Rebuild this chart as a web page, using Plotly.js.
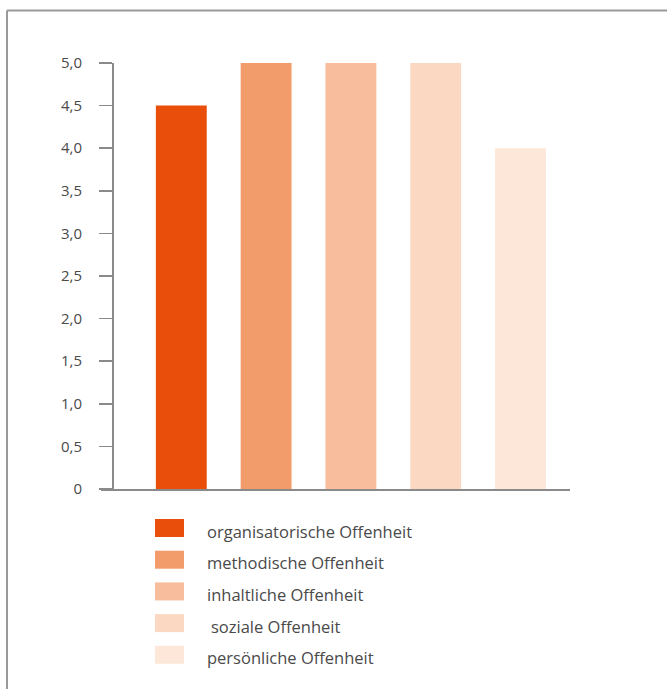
<!DOCTYPE html>
<html>
<head>
<meta charset="utf-8">
<script src="https://cdn.plot.ly/plotly-3.0.1.min.js"></script>
<style>
html,body{margin:0;padding:0;background:#fff;}
#chart{width:667px;height:689px;}
</style>
</head>
<body>
<div id="chart"></div>
<script>
const categories = ["organisatorische Offenheit", "methodische Offenheit", "inhaltliche Offenheit", "soziale Offenheit", "persönliche Offenheit"];
const values = [4.5, 5.0, 5.0, 5.0, 4.0];
const colors = ["#EA4E0B", "#F29B6B", "#F7BD9D", "#FBD8C1", "#FDE7D9"];
const tickVals = [0, 0.5, 1, 1.5, 2, 2.5, 3, 3.5, 4, 4.5, 5];
const tickText = ["0", "0,5", "1,0", "1,5", "2,0", "2,5", "3,0", "3,5", "4,0", "4,5", "5,0"];

// plot area geometry (pixels)
const L = 101, R = 570, T = 63, B = 489;
const W = R - L, H = B - T;
const px = x => (x - L) / W;
const py = y => (B - y) / H;

const traces = categories.map((c, i) => ({
  type: 'bar',
  x: [c],
  y: [values[i]],
  name: c,
  width: 0.6,
  marker: {color: colors[i], line: {width: 0}},
  showlegend: false,
  hoverinfo: 'x+y'
}));

const shapes = [
  // frame
  {type: 'line', xref: 'paper', yref: 'paper', x0: px(7), x1: px(700), y0: py(10.5), y1: py(10.5), line: {color: '#9a9a9a', width: 2}},
  {type: 'line', xref: 'paper', yref: 'paper', x0: px(7), x1: px(7), y0: py(10.5), y1: py(700), line: {color: '#9a9a9a', width: 2}}
];
const annotations = [];
const rowY0 = 528, rowStep = 31.7;
categories.forEach((c, i) => {
  const yc = rowY0 + i * rowStep;
  shapes.push({type: 'rect', xref: 'paper', yref: 'paper', x0: px(155), x1: px(184), y0: py(yc - 9), y1: py(yc + 9), fillcolor: colors[i], line: {width: 0}});
  annotations.push({xref: 'paper', yref: 'paper', x: px(i === 3 ? 209 : 205), y: py(yc + 3), xanchor: 'left', yanchor: 'middle', text: c, showarrow: false, font: {size: 16.5, color: '#4a4a4a', family: 'Open Sans, sans-serif'}});
});

const layout = {
  width: 667, height: 689,
  margin: {l: L, r: 667 - R, t: T, b: 689 - B, pad: 0},
  paper_bgcolor: '#ffffff', plot_bgcolor: '#ffffff',
  barmode: 'overlay',
  font: {family: 'Open Sans, sans-serif', color: '#4a4a4a', size: 15},
  xaxis: {
    type: 'category',
    range: [(101 - 181.3) / 84.8, (570 - 181.3) / 84.8],
    showticklabels: false, ticks: '', showgrid: false, zeroline: false,
    showline: true, linecolor: '#8a8a8a', linewidth: 2, fixedrange: true
  },
  yaxis: {
    range: [0, 5], anchor: 'free', position: px(112),
    tickvals: tickVals, ticktext: tickText,
    ticks: 'outside', ticklen: 13, tickwidth: 1.5, tickcolor: '#8a8a8a',
    ticklabelstandoff: 14,
    showgrid: false, zeroline: false,
    showline: true, linecolor: '#8a8a8a', linewidth: 1.5,
    tickfont: {size: 15, color: '#4a4a4a'}, fixedrange: true
  },
  shapes: shapes,
  annotations: annotations
};

Plotly.newPlot('chart', traces, layout, {displayModeBar: false, staticPlot: true});
</script>
</body>
</html>
